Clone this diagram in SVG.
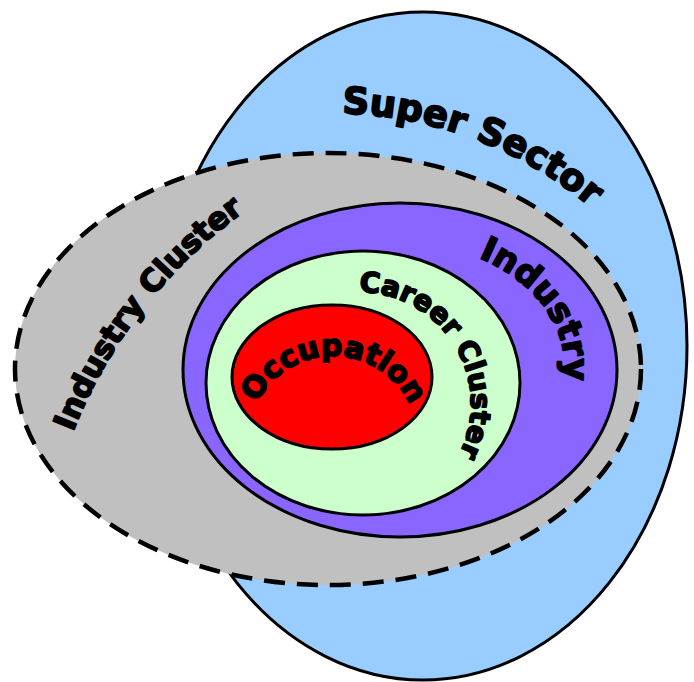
<svg xmlns="http://www.w3.org/2000/svg" width="694" height="682" viewBox="0 0 694 682">
  <style>
    .ring { stroke: #000; stroke-width: 3; }
    .lbl { font-family: "DejaVu Sans", "Liberation Sans", sans-serif; font-weight: bold; fill: #000; stroke: #000; stroke-width: 1.8; stroke-linejoin: round; }
  </style>
  <defs>
    <!-- baselines for the curved labels (all run clockwise) -->
    <path id="p-super" d="M 342 113.5 A 400 400 0 0 1 679.4 313" fill="none"/>
    <path id="p-cluster" d="M 73 432 A 494 494 0 0 1 327.2 163.3" fill="none"/>
    <path id="p-industry" d="M 478.5 257.6 A 163 125 0 0 1 541.2 432.5" fill="none"/>
    <path id="p-career" d="M 359 292 A 112 112 0 0 1 415 501" fill="none"/>
    <path id="p-occ" d="M 256.8 403.3 A 85 85 0 0 1 416.7 426.2" fill="none"/>
  </defs>

  <g id="super-sector">
    <ellipse class="ring" cx="423" cy="346" rx="264" ry="334" fill="#99CCFF"/>
  </g>
  <g id="industry-cluster">
    <ellipse cx="328" cy="369" rx="313" ry="216" fill="#C0C0C0" stroke="#000" stroke-width="4.5" stroke-dasharray="21 12"/>
  </g>
  <g id="industry">
    <ellipse class="ring" cx="400" cy="370" rx="217" ry="167" fill="#8866FF"/>
  </g>
  <g id="career-cluster">
    <ellipse class="ring" cx="363" cy="383" rx="157" ry="132" fill="#CCFFCC"/>
  </g>
  <g id="occupation">
    <ellipse class="ring" cx="332" cy="377" rx="100" ry="72" fill="#FF0000"/>
  </g>

  <g id="labels">
    <text class="lbl" font-size="37"><textPath href="#p-super">Super Sector</textPath></text>
    <text class="lbl" font-size="31"><textPath href="#p-cluster">Industry Cluster</textPath></text>
    <text class="lbl" font-size="34"><textPath href="#p-industry">Industry</textPath></text>
    <text class="lbl" font-size="28"><textPath href="#p-career">Career Cluster</textPath></text>
    <text class="lbl" font-size="30"><textPath href="#p-occ">Occupation</textPath></text>
  </g>
</svg>
